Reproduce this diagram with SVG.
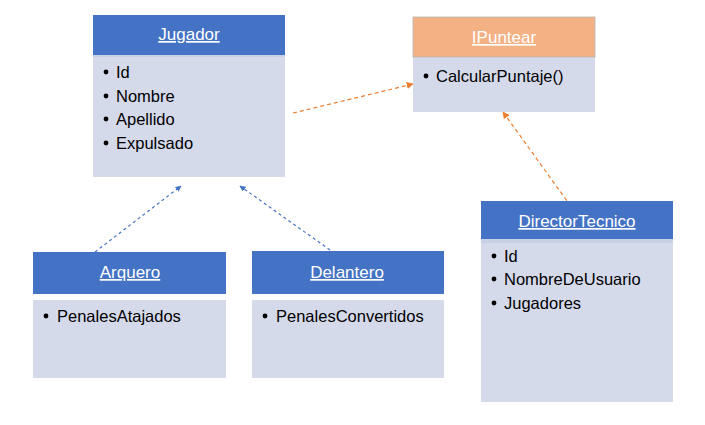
<svg xmlns="http://www.w3.org/2000/svg" width="705" height="425" viewBox="0 0 705 425">
<style>
.hd{fill:#4472C4}
.bd{fill:#D5DAEB}
.st{fill:#C8D0E7}
.ht{font-family:"Liberation Sans",Arial,sans-serif;font-size:17px;fill:#FFFFFF;text-anchor:middle;text-decoration:underline}
.it{font-family:"Liberation Sans",Arial,sans-serif;font-size:16.5px;fill:#000000}
.bl{fill:#000000}
.cb{fill:none;stroke:#4472C4;stroke-width:1.2;stroke-dasharray:3 3}
.co{fill:none;stroke:#ED7D31;stroke-width:1.2;stroke-dasharray:4 3}
</style>
<defs>
<marker id="ab" viewBox="0 0 10 10" refX="9" refY="5" markerWidth="6" markerHeight="6" orient="auto" markerUnits="userSpaceOnUse"><path d="M0,0 L10,5 L0,10 z" fill="#4472C4"/></marker>
<marker id="ao" viewBox="0 0 10 10" refX="9" refY="5" markerWidth="7" markerHeight="7" orient="auto" markerUnits="userSpaceOnUse"><path d="M0,0 L10,5 L0,10 z" fill="#ED7D31"/></marker>
</defs>
<rect width="705" height="425" fill="#FFFFFF"/>
<g id="connectors">
<line class="cb" x1="95" y1="252" x2="181" y2="186" marker-end="url(#ab)"/>
<line class="cb" x1="330" y1="250" x2="240" y2="186" marker-end="url(#ab)"/>
<line class="co" x1="293" y1="113" x2="413" y2="84" marker-end="url(#ao)"/>
<line class="co" x1="575" y1="212" x2="503" y2="112" marker-end="url(#ao)"/>
</g>
<g id="Jugador">
<rect class="bd" x="93" y="55" width="192" height="122"/>
<rect class="st" x="93" y="54" width="192" height="3"/>
<rect class="hd" x="93" y="15" width="192" height="40"/>
<text class="ht" x="189" y="40">Jugador</text>
<circle class="bl" cx="106" cy="72" r="2.4"/><text class="it" x="116" y="78">Id</text>
<circle class="bl" cx="106" cy="96" r="2.4"/><text class="it" x="116" y="102">Nombre</text>
<circle class="bl" cx="106" cy="119" r="2.4"/><text class="it" x="116" y="125">Apellido</text>
<circle class="bl" cx="106" cy="143" r="2.4"/><text class="it" x="116" y="149">Expulsado</text>
</g>
<g id="IPuntear">
<rect class="bd" x="413" y="57" width="182" height="55"/>
<rect x="413" y="17" width="182" height="40" fill="#F4B183" stroke="#B8B8B8" stroke-width="0.8"/>
<text class="ht" x="504" y="43">IPuntear</text>
<circle class="bl" cx="426" cy="76" r="2.4"/><text class="it" x="436" y="82">CalcularPuntaje()</text>
</g>
<g id="Arquero">
<rect class="hd" x="33" y="252" width="193" height="42"/>
<rect class="bd" x="33" y="300" width="193" height="78"/>
<text class="ht" x="130" y="278">Arquero</text>
<circle class="bl" cx="46" cy="316" r="2.4"/><text class="it" x="57" y="322">PenalesAtajados</text>
</g>
<g id="Delantero">
<rect class="hd" x="252" y="251" width="192" height="43"/>
<rect class="bd" x="252" y="300" width="192" height="78"/>
<text class="ht" x="347" y="278">Delantero</text>
<circle class="bl" cx="265" cy="316" r="2.4"/><text class="it" x="276" y="322">PenalesConvertidos</text>
</g>
<g id="DirectorTecnico">
<rect class="bd" x="481" y="238" width="192" height="164"/>
<rect class="st" x="481" y="238" width="192" height="5"/>
<rect class="hd" x="481" y="201" width="192" height="38"/>
<text class="ht" x="577" y="227">DirectorTecnico</text>
<circle class="bl" cx="494" cy="256" r="2.4"/><text class="it" x="504" y="262">Id</text>
<circle class="bl" cx="494" cy="279" r="2.4"/><text class="it" x="504" y="285">NombreDeUsuario</text>
<circle class="bl" cx="494" cy="303" r="2.4"/><text class="it" x="504" y="309">Jugadores</text>
</g>
</svg>
